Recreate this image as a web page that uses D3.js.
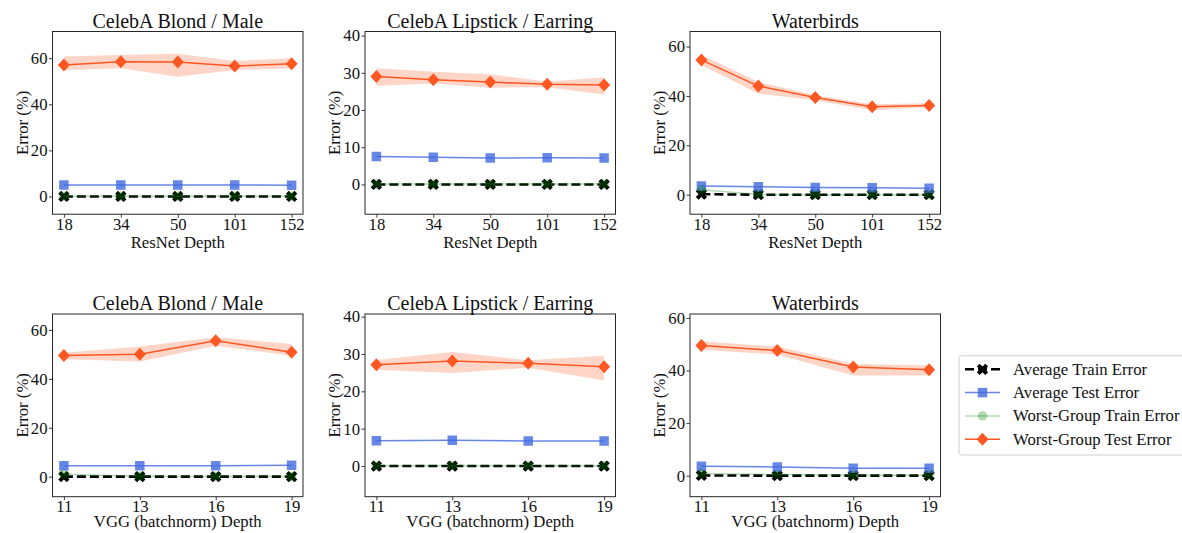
<!DOCTYPE html>
<meta charset="utf-8">
<style>
  body { margin: 0; background: #fff; }
  text { font-family: "Liberation Serif", "Times New Roman", serif; fill: #111; }
  .tick text { font-size: 16.7px; }
  .title { font-size: 20px; }
  .label { font-size: 16.7px; }
</style>
<script src="https://d3js.org/d3.v7.min.js"></script>
<div id="chart"></div>
<script>

// depths on the x axis
var resnetDepths = ["18", "34", "50", "101", "152"];
var vggDepths = ["11", "13", "16", "19"];

var seriesNames = ["Average Train Error", "Average Test Error", "Worst-Group Train Error", "Worst-Group Test Error"];

// ResNet, CelebA Blond / Male
var blondResAvgTrain = [0, 0, 0, 0, 0];
var blondResAvgTest = [5.0, 5.0, 5.0, 5.0, 4.9];
var blondResWorstTrain = [0.1, 0.1, 0.1, 0.1, 0.1];
var blondResWorstTest = [57.1, 58.5, 58.4, 56.6, 57.6];
var blondResWorstLo = [54.9, 55.6, 52.0, 54.9, 55.6];
var blondResWorstHi = [60.7, 61.4, 61.9, 58.8, 60.0];

// ResNet, CelebA Lipstick / Earring
var lipResAvgTrain = [0, 0, 0, 0, 0];
var lipResAvgTest = [7.5, 7.3, 7.1, 7.2, 7.1];
var lipResWorstTrain = [0.1, 0.1, 0.1, 0.1, 0.1];
var lipResWorstTest = [29.0, 28.1, 27.5, 26.9, 26.7];
var lipResWorstLo = [26.5, 27.1, 26.0, 26.1, 24.2];
var lipResWorstHi = [31.2, 30.3, 29.6, 27.6, 28.8];

// ResNet, Waterbirds
var birdResAvgTrain = [0.2, 0, 0, 0, 0];
var birdResAvgTest = [3.5, 3.2, 2.9, 2.8, 2.6];
var birdResWorstTrain = [2.0, 0.1, 0, 0, 0];
var birdResWorstTest = [54.6, 44.0, 39.4, 35.6, 36.1];
var birdResWorstLo = [52.5, 41.0, 38.3, 34.2, 35.4];
var birdResWorstHi = [56.6, 45.7, 40.3, 36.6, 37.0];

// VGG, CelebA Blond / Male
var blondVggAvgTrain = [0, 0, 0, 0];
var blondVggAvgTest = [4.5, 4.5, 4.5, 4.7];
var blondVggWorstTrain = [1.0, 0.2, 0.1, 0.1];
var blondVggWorstTest = [49.5, 50.0, 55.6, 50.9];
var blondVggWorstLo = [48.0, 47.1, 53.5, 49.4];
var blondVggWorstHi = [50.7, 53.2, 57.0, 54.2];

// VGG, CelebA Lipstick / Earring
var lipVggAvgTrain = [0, 0, 0, 0];
var lipVggAvgTest = [6.8, 6.9, 6.7, 6.7];
var lipVggWorstTrain = [0.1, 0.1, 0.1, 0.1];
var lipVggWorstTest = [27.1, 28.1, 27.5, 26.6];
var lipVggWorstLo = [25.8, 24.9, 26.3, 22.9];
var lipVggWorstHi = [28.4, 30.5, 28.3, 29.5];

// VGG, Waterbirds
var birdVggAvgTrain = [0.1, 0, 0, 0];
var birdVggAvgTest = [3.6, 3.3, 2.8, 2.8];
var birdVggWorstTrain = [0.8, 0.4, 0.2, 0.2];
var birdVggWorstTest = [49.5, 47.6, 41.3, 40.3];
var birdVggWorstLo = [47.9, 46.1, 38.1, 38.1];
var birdVggWorstHi = [51.1, 49.1, 42.6, 41.9];

var panels = [
  {title: "CelebA Blond / Male", depths: resnetDepths, xlabel: "ResNet Depth", ylim: [-7.7, 71.6], yticks: [0, 20, 40, 60],
   avgTrain: blondResAvgTrain, avgTest: blondResAvgTest, worstTrain: blondResWorstTrain, worstTest: blondResWorstTest, lo: blondResWorstLo, hi: blondResWorstHi},
  {title: "CelebA Lipstick / Earring", depths: resnetDepths, xlabel: "ResNet Depth", ylim: [-8, 41.1], yticks: [0, 10, 20, 30, 40],
   avgTrain: lipResAvgTrain, avgTest: lipResAvgTest, worstTrain: lipResWorstTrain, worstTest: lipResWorstTest, lo: lipResWorstLo, hi: lipResWorstHi},
  {title: "Waterbirds", depths: resnetDepths, xlabel: "ResNet Depth", ylim: [-7.9, 66.1], yticks: [0, 20, 40, 60],
   avgTrain: birdResAvgTrain, avgTest: birdResAvgTest, worstTrain: birdResWorstTrain, worstTest: birdResWorstTest, lo: birdResWorstLo, hi: birdResWorstHi},
  {title: "CelebA Blond / Male", depths: vggDepths, xlabel: "VGG (batchnorm) Depth", ylim: [-8.2, 66.5], yticks: [0, 20, 40, 60],
   avgTrain: blondVggAvgTrain, avgTest: blondVggAvgTest, worstTrain: blondVggWorstTrain, worstTest: blondVggWorstTest, lo: blondVggWorstLo, hi: blondVggWorstHi},
  {title: "CelebA Lipstick / Earring", depths: vggDepths, xlabel: "VGG (batchnorm) Depth", ylim: [-8.2, 40.7], yticks: [0, 10, 20, 30, 40],
   avgTrain: lipVggAvgTrain, avgTest: lipVggAvgTest, worstTrain: lipVggWorstTrain, worstTest: lipVggWorstTest, lo: lipVggWorstLo, hi: lipVggWorstHi},
  {title: "Waterbirds", depths: vggDepths, xlabel: "VGG (batchnorm) Depth", ylim: [-8, 61.5], yticks: [0, 20, 40, 60],
   avgTrain: birdVggAvgTrain, avgTest: birdVggAvgTest, worstTrain: birdVggWorstTrain, worstTest: birdVggWorstTest, lo: birdVggWorstLo, hi: birdVggWorstHi}
];

var width = 1182, height = 533;
var colLeft = [52.5, 365, 690], rowTop = [31.5, 314];
var xlabelOffset = [33.5, 30];
var pw = 250.5, ph = 182.7;

var orange = "#ff5722", blue = "#4169e1", green = "#008000";

var svg = d3.select("#chart").append("svg")
    .attr("width", width)
    .attr("height", height);

var diamond = "M0,-6.5L6,0L0,6.5L-6,0Z";
var xMark = d3.symbol().type(d3.symbolCross).size(80)();
var square = d3.symbol().type(d3.symbolSquare).size(90)();
var circle = d3.symbol().type(d3.symbolCircle).size(70)();

function drawSeries(g, x, y, vals, depths, opt) {
  var pts = vals.map(function(v, i) { return [x(depths[i]), y(v)]; });
  g.append("path")
      .attr("d", d3.line()(pts))
      .attr("fill", "none")
      .attr("stroke", opt.color)
      .attr("stroke-width", opt.width)
      .attr("stroke-opacity", opt.opacity)
      .attr("stroke-dasharray", opt.dash || null);
  g.selectAll(null)
      .data(pts)
    .enter().append("path")
      .attr("d", opt.marker)
      .attr("transform", function(d) { return "translate(" + d[0] + "," + d[1] + ")" + (opt.rotate ? " rotate(45)" : ""); })
      .attr("fill", opt.color)
      .attr("fill-opacity", opt.opacity);
}

panels.forEach(function(p, k) {
  var row = Math.floor(k / 3);
  var left = colLeft[k % 3], top = rowTop[row];
  var n = p.depths.length;
  var x = d3.scalePoint().domain(p.depths).range([0, pw]).padding(0.05 * (n - 1));
  var y = d3.scaleLinear().domain(p.ylim).range([ph, 0]);

  var g = svg.append("g").attr("transform", "translate(" + left + "," + top + ")");

  g.append("defs").append("clipPath").attr("id", "clip" + k)
    .append("rect").attr("width", pw).attr("height", ph);

  var plot = g.append("g").attr("clip-path", "url(#clip" + k + ")");

  // shaded band for worst-group test error
  plot.append("path")
      .datum(p.depths.map(function(d, i) { return {d: d, lo: p.lo[i], hi: p.hi[i]}; }))
      .attr("d", d3.area()
        .x(function(d) { return x(d.d); })
        .y0(function(d) { return y(d.lo); })
        .y1(function(d) { return y(d.hi); }))
      .attr("fill", orange)
      .attr("fill-opacity", 0.25);

  drawSeries(plot, x, y, p.avgTrain, p.depths, {color: "#000", width: 2.6, opacity: 1, dash: "9,4", marker: xMark, rotate: true});
  drawSeries(plot, x, y, p.avgTest, p.depths, {color: blue, width: 1.5, opacity: 0.8, marker: square});
  drawSeries(plot, x, y, p.worstTrain, p.depths, {color: green, width: 1.5, opacity: 0.3, marker: circle});
  drawSeries(plot, x, y, p.worstTest, p.depths, {color: orange, width: 1.5, opacity: 1, marker: diamond});

  var xAxis = g.append("g")
      .attr("transform", "translate(0," + ph + ")")
      .call(d3.axisBottom(x).tickSize(3.5).tickPadding(row === 0 ? 0.5 : 0));
  var yAxis = g.append("g")
      .call(d3.axisLeft(y).tickValues(p.yticks).tickFormat(d3.format("d")).tickSize(3.5).tickPadding(1.5));
  [xAxis, yAxis].forEach(function(a) {
    a.select(".domain").remove();
    a.selectAll(".tick line").attr("stroke", "#262626").attr("stroke-width", 0.9);
    a.selectAll(".tick text").attr("fill", "#111");
  });

  g.append("rect")
      .attr("width", pw)
      .attr("height", ph)
      .attr("fill", "none")
      .attr("stroke", "#262626")
      .attr("stroke-width", 1);

  g.append("text")
      .attr("class", "title")
      .attr("x", pw / 2)
      .attr("y", -4)
      .attr("text-anchor", "middle")
      .text(p.title);

  g.append("text")
      .attr("class", "label")
      .attr("x", pw / 2)
      .attr("y", ph + xlabelOffset[row])
      .attr("text-anchor", "middle")
      .text(p.xlabel);

  g.append("text")
      .attr("class", "label")
      .attr("transform", "translate(-25," + (ph / 2) + ") rotate(-90)")
      .attr("text-anchor", "middle")
      .text("Error (%)");
});

// legend
var legend = svg.append("g").attr("transform", "translate(959,355.7)");
legend.append("rect")
    .attr("width", 250)
    .attr("height", 99.3)
    .attr("rx", 3)
    .attr("fill", "#fff")
    .attr("stroke", "#d0d0d0")
    .attr("stroke-width", 1);

var legendStyles = [
  {color: "#000", width: 2.6, opacity: 1, dash: "9,4", marker: xMark, rotate: true},
  {color: blue, width: 1.5, opacity: 0.8, marker: square},
  {color: green, width: 1.5, opacity: 0.3, marker: circle},
  {color: orange, width: 1.5, opacity: 1, marker: diamond}
];

seriesNames.forEach(function(name, i) {
  var s = legendStyles[i];
  var row = legend.append("g").attr("transform", "translate(0," + (13.6 + i * 23.3) + ")");
  row.append("line")
      .attr("x1", 6).attr("x2", 41)
      .attr("stroke", s.color)
      .attr("stroke-width", s.width)
      .attr("stroke-opacity", s.opacity)
      .attr("stroke-dasharray", s.dash || null);
  row.append("path")
      .attr("d", s.marker)
      .attr("transform", "translate(23.5,0)" + (s.rotate ? " rotate(45)" : ""))
      .attr("fill", s.color)
      .attr("fill-opacity", s.opacity);
  row.append("text")
      .attr("class", "label")
      .attr("x", 54)
      .attr("y", 5.5)
      .text(name);
});

</script>
